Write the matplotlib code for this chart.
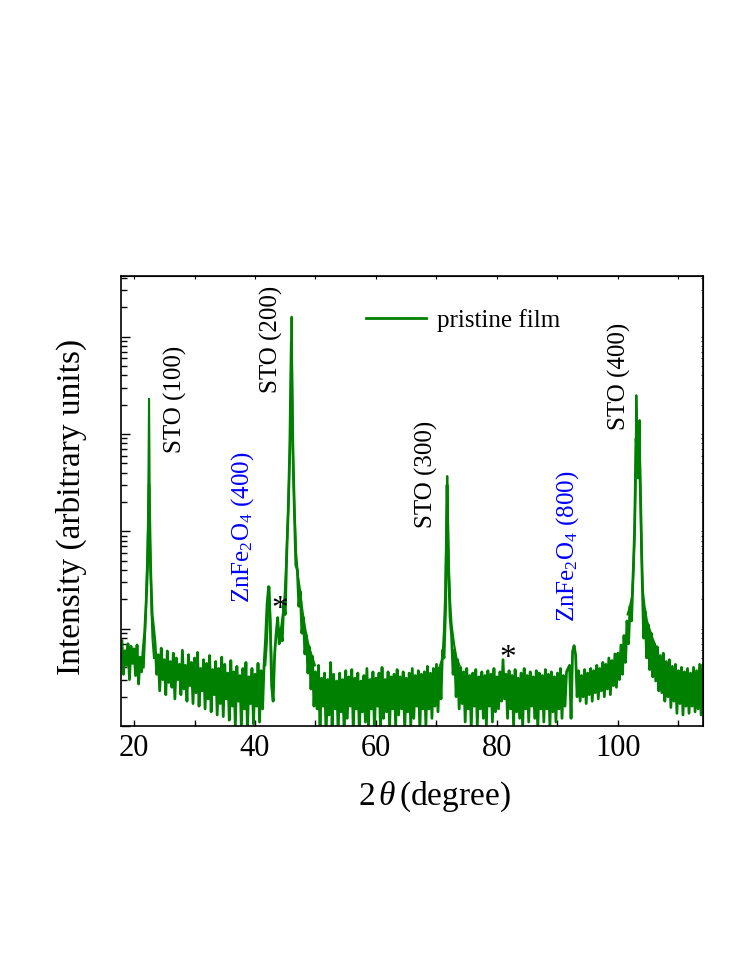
import numpy as np
import matplotlib.pyplot as plt
from matplotlib.ticker import LogLocator, MultipleLocator, NullFormatter

plt.rcParams['font.family'] = 'Liberation Serif'
plt.rcParams['mathtext.fontset'] = 'custom'
plt.rcParams['mathtext.rm'] = 'Liberation Serif'
plt.rcParams['mathtext.it'] = 'Liberation Serif:italic'

# background scan, 18-114 deg in 0.25 deg steps (counts)
scan_start = 18.0
scan_step = 0.25
scan_counts = [
    7.5, 3.4, 5.9, 4.2, 7.0, 3.0, 6.6, 4.4,      # 18
    6.2, 3.3, 6.8, 2.7, 5.1, 3.6, 6.0, 9.0,      # 20
    18, 45, 300, 40, 14, 10, 6.8, 3.4,           # 22
    5.4, 2.3, 6.3, 3.0, 4.8, 2.1, 5.9, 2.8,      # 24
    4.6, 2.5, 5.6, 1.9, 5.0, 3.0, 4.3, 2.1,      # 26
    6.0, 2.4, 4.2, 1.8, 5.4, 2.6, 4.5, 1.7,      # 28
    5.0, 2.2, 5.7, 1.6, 3.9, 2.3, 4.8, 1.5,      # 30
    4.4, 1.9, 5.3, 1.4, 3.8, 2.1, 4.6, 1.3,      # 32
    3.9, 1.7, 5.1, 1.25, 4.3, 1.9, 3.5, 1.15,    # 34
    4.7, 1.6, 3.6, 1.0, 4.1, 1.8, 3.3, 0.95,     # 36
    3.9, 1.5, 4.5, 0.9, 3.2, 1.7, 3.9, 1.05,     # 38
    3.4, 1.6, 4.4, 1.1, 3.7, 1.5, 4.2, 8.0,      # 40
    18, 27, 12, 2.6, 1.8, 5.5, 9.0, 13,          # 42
    7.0, 10, 7.5, 18, 14, 60, 170, 700,          # 44
    9000, 800, 170, 45, 40, 17, 24, 9.0,         # 46
    13, 5.5, 8.5, 3.5, 6.5, 2.4, 5.2, 1.6,       # 48
    3.6, 1.5, 4.2, 0.9, 3.1, 1.6, 3.5, 0.8,      # 50
    3.0, 1.3, 4.5, 1.0, 3.4, 1.5, 2.9, 0.85,     # 52
    3.5, 1.4, 3.0, 0.8, 3.7, 1.2, 3.2, 1.6,      # 54
    3.8, 0.9, 3.1, 1.5, 3.5, 0.85, 2.9, 1.4,     # 56
    3.3, 1.1, 3.9, 1.0, 3.0, 1.5, 3.6, 0.9,      # 58
    3.1, 1.6, 3.5, 0.9, 4.0, 1.2, 3.0, 1.4,      # 60
    3.6, 0.95, 3.2, 1.5, 3.4, 1.0, 3.8, 1.3,     # 62
    3.2, 1.5, 3.6, 0.9, 3.1, 1.4, 3.5, 1.0,      # 64
    3.9, 1.2, 3.3, 1.6, 3.7, 0.9, 3.4, 1.5,      # 66
    3.6, 1.0, 4.1, 1.5, 3.5, 1.2, 3.9, 1.6,      # 68
    4.3, 1.4, 4.0, 1.9, 6.0, 5.0, 16, 300,       # 70
    40, 13, 8.5, 3.4, 6.0, 2.0, 4.8, 1.5,        # 72
    4.0, 1.7, 3.6, 1.1, 3.9, 1.5, 3.3, 0.95,     # 74
    3.5, 1.6, 3.8, 1.0, 3.2, 1.5, 3.6, 1.2,      # 76
    3.3, 1.0, 3.7, 1.6, 3.4, 1.1, 3.9, 1.4,      # 78
    3.2, 1.5, 3.6, 1.8, 4.8, 1.9, 3.4, 1.2,      # 80
    3.7, 1.5, 3.3, 1.0, 3.8, 1.4, 3.1, 1.2,      # 82
    3.5, 0.95, 3.9, 1.5, 3.3, 1.1, 3.6, 1.6,     # 84
    3.2, 1.2, 3.7, 0.9, 3.5, 1.5, 3.3, 1.1,      # 86
    3.8, 1.5, 3.4, 1.0, 3.6, 1.4, 3.2, 1.1,      # 88
    3.5, 1.5, 3.9, 1.2, 3.3, 1.6, 3.6, 3.9,      # 90
    4.2, 1.2, 5.8, 6.7, 5.4, 2.0, 3.7, 1.8,      # 92
    3.3, 2.0, 3.8, 1.7, 3.5, 2.1, 3.9, 1.8,      # 94
    3.7, 2.2, 4.2, 1.9, 3.9, 2.3, 4.5, 2.0,      # 96
    4.3, 2.4, 5.0, 2.1, 4.7, 2.6, 5.5, 2.5,      # 98
    5.6, 3.0, 6.8, 3.4, 8.5, 4.5, 12, 7.0,       # 100
    17, 12, 35, 100, 900, 500, 900, 200,         # 102
    35, 8.0, 15, 5.0, 11, 3.8, 9.0, 3.2,         # 104
    7.0, 2.9, 6.5, 2.3, 5.3, 2.2, 5.6, 1.8,      # 106
    4.6, 2.0, 4.8, 1.55, 4.1, 1.8, 4.3, 1.35,    # 108
    3.7, 1.7, 4.0, 1.3, 3.6, 1.6, 3.9, 1.35,     # 110
    3.5, 1.6, 4.0, 1.4, 3.7, 1.5, 4.3, 1.3,      # 112
    4.2,                                         # 114
]

# sharp reflections, finer sampling
sto100_theta = [21.6, 21.8, 21.95, 22.1, 22.2, 22.3, 22.4, 22.48, 22.55, 22.62, 22.7, 22.78, 22.9, 23.05, 23.3]
sto100_counts = [4, 8, 15, 35, 55, 110, 450, 2300, 600, 90, 55, 35, 15, 8, 5]

znfe400_theta = [41.7, 41.95, 42.12, 42.26, 42.36, 42.48, 42.62, 42.78, 42.95]
znfe400_counts = [4.2, 7, 13, 22, 27, 17, 8, 3.5, 2.0]

sto200_theta = [44.3, 44.6, 44.9, 45.1, 45.3, 45.5, 45.66, 45.8, 45.93, 46.0, 46.05, 46.1, 46.18,
                46.32, 46.55, 46.8, 47.1, 47.44, 47.8, 48.3, 48.8, 49.3, 49.9]
sto200_counts = [10, 14, 22, 40, 80, 170, 400, 900, 3000, 9000, 16000, 9000, 2500,
                 400, 150, 60, 35, 25, 16, 10, 7, 5.5, 4.2]

sto300_theta = [70.6, 71.0, 71.25, 71.45, 71.6, 71.7, 71.78, 71.86, 71.95, 72.1, 72.3, 72.5, 72.9, 73.3, 73.8]
sto300_counts = [4.2, 5.0, 10, 25, 70, 180, 370, 200, 80, 35, 17, 11, 7, 5, 4.2]

sto400_theta = [101.6, 102.0, 102.35, 102.6, 102.75, 102.88, 102.97, 103.04, 103.12, 103.22, 103.32, 103.42,
                103.52, 103.58, 103.65, 103.75, 103.9, 104.1, 104.4, 104.8, 105.2, 105.7, 106.3]
sto400_counts = [14, 17, 22, 45, 100, 265, 900, 2500, 1500, 600, 350, 500,
                 1100, 1390, 600, 200, 60, 25, 17, 12, 10, 8, 6.5]

# peak labels
label_text = ['STO (100)', 'STO (200)', 'ZnFe$_2$O$_4$ (400)', 'STO (300)', 'ZnFe$_2$O$_4$ (800)', 'STO (400)']
label_x = [26.9, 42.8, 38.0, 68.3, 91.6, 100.3]
label_y = [2290, 9300, 110, 388, 70, 3880]
label_color = ['black', 'black', 'blue', 'black', 'blue', 'black']

star_x = [44.1, 81.8]
star_y = [15.5, 4.9]

green = '#008000'

fig = plt.figure(figsize=(7.47, 9.67), dpi=100)
ax = fig.add_axes([0.162, 0.2492, 0.779, 0.4654])

two_theta = scan_start + scan_step * np.arange(len(scan_counts))
ax.plot(two_theta, scan_counts, color=green, lw=2.0, label='pristine film')
for tt, cc in [(sto100_theta, sto100_counts), (znfe400_theta, znfe400_counts),
               (sto200_theta, sto200_counts), (sto300_theta, sto300_counts),
               (sto400_theta, sto400_counts)]:
    ax.plot(tt, cc, color=green, lw=1.5)

ax.set_yscale('log')
ax.set_xlim(17.85, 114.05)
ax.set_ylim(1, 4.2e4)

for t, x, y, c in zip(label_text, label_x, label_y, label_color):
    ax.text(x, y, t, rotation=90, ha='center', va='center', fontsize=18, color=c)
for x, y in zip(star_x, star_y):
    ax.text(x, y, '*', ha='center', va='center', fontsize=24)

ax.xaxis.set_major_locator(MultipleLocator(20))
ax.xaxis.set_minor_locator(MultipleLocator(10))
ax.yaxis.set_major_locator(LogLocator(base=10))
ax.yaxis.set_minor_locator(LogLocator(base=10, subs=np.arange(2, 10)))
ax.yaxis.set_major_formatter(NullFormatter())
ax.yaxis.set_minor_formatter(NullFormatter())
ax.tick_params(axis='x', which='both', direction='in', length=4.5, width=1, labelsize=22, pad=6)
ax.tick_params(axis='y', which='major', direction='in', length=6.5, width=1)
ax.tick_params(axis='y', which='minor', direction='in', length=4.3, width=1)

top = ax.secondary_xaxis('top')
top.xaxis.set_major_locator(MultipleLocator(10))
top.tick_params(direction='in', length=2, width=0.8, labeltop=False)
right = ax.secondary_yaxis('right')
right.tick_params(which='both', direction='in', length=1.5, width=0.6, labelright=False)
right.yaxis.set_major_formatter(NullFormatter())
right.yaxis.set_minor_formatter(NullFormatter())

for s in ax.spines.values():
    s.set_linewidth(1.2)

ax.set_xlabel(r'2$\,\theta\,$(degree)', fontsize=24)
ax.xaxis.set_label_coords(0.538, -0.118)
ax.set_ylabel('Intensity (arbitrary units)', fontsize=24)
ax.yaxis.set_label_coords(-0.058, 0.486)

ax.legend(loc='center left', bbox_to_anchor=(0.421, 0.902), frameon=False, fontsize=18,
          handlelength=2.4, handletextpad=0.45, borderpad=0, borderaxespad=0)

fig.savefig('out.png', dpi=100)
